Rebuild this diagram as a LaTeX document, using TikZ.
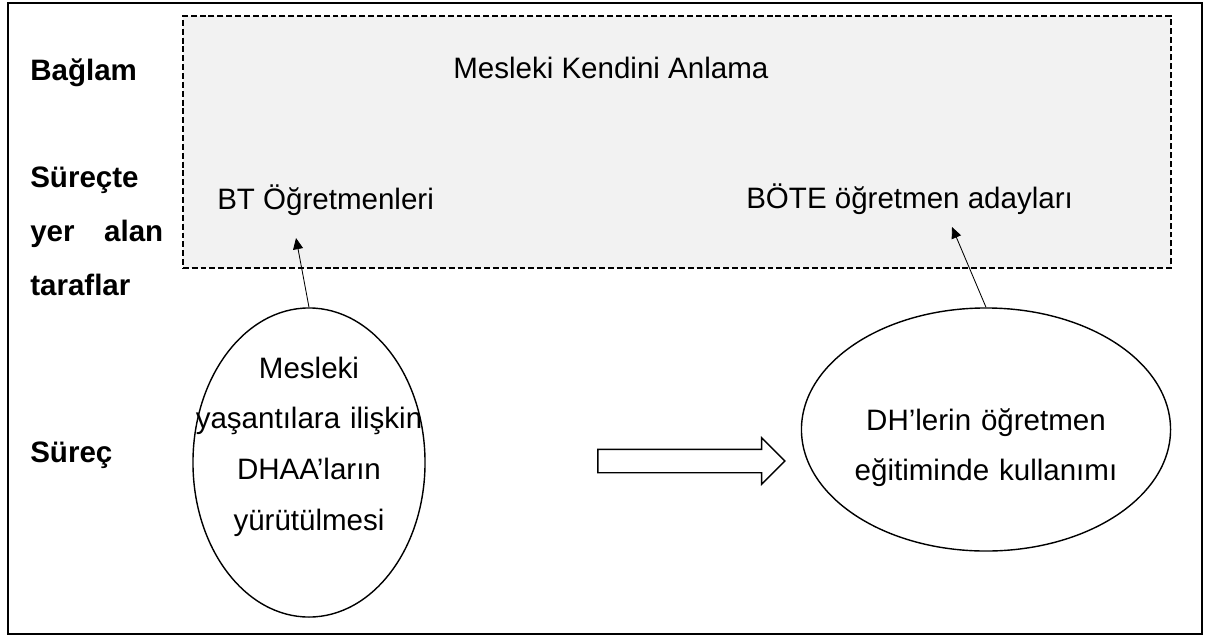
\documentclass[tikz,border=0pt]{standalone}
\usepackage{fontspec}
\setmainfont{Liberation Sans}
\usepackage{xcolor}
\usetikzlibrary{shapes.geometric, shapes.arrows, arrows.meta, positioning}
\definecolor{ctxgray}{HTML}{F2F2F2}
\tikzstyle{sidelabel} = [font=\fontsize{21}{38.4}\selectfont\bfseries, inner sep=0]
\tikzstyle{party} = [font=\fontsize{21}{25}\selectfont, inner sep=0]
\tikzstyle{activity} = [ellipse, draw, line width=1pt, inner sep=0]
\tikzstyle{acttext} = [font=\fontsize{21}{36.1}\selectfont, inner sep=0, text width=7cm, align=center]
\tikzstyle{arrow} = [line width=0.6pt, ->, >={Triangle[length=0.28cm, width=0.25cm]}]

\begin{document}
\begin{tikzpicture}[x=0.025cm, y=-0.025cm]
        \useasboundingbox (0,0) rectangle (1211,639);

        % Frame and context box
        \node (frame) [rectangle, draw, line width=1.4pt, minimum width=29.85cm, minimum height=15.775cm] at (605,318.5) {};
        \node (context) [rectangle, draw, dashed, dash pattern=on 4.2pt off 2.1pt, line width=1pt, fill=ctxgray, minimum width=24.7cm, minimum height=6.3cm] at (677,142) {};

        % Row labels
        \node (baglam) [sidelabel, anchor=base west] at (30,80) {Bağlam};
        \node (taraflar) [sidelabel, anchor=base west, text width=3.325cm, align=left] at (30,187) {Süreçte\\yer\hfill alan\\taraflar};
        \node (surec) [sidelabel, anchor=base west] at (30,462) {Süreç};

        % Context texts
        \node (anlama) [party, anchor=base west] at (453,78) {Mesleki Kendini Anlama};
        \node (bt) [party, anchor=base west] at (217,209) {BT Öğretmenleri};
        \node (bote) [party, anchor=base west] at (746,208) {BÖTE öğretmen adayları};
        \coordinate (bttip) at (296,238);
        \coordinate (botetip) at (952,227);

        % Process
        \node (exp) [activity, minimum width=5.8cm, minimum height=7.725cm] at (309,462.5) {};
        \node (exptext) [acttext, anchor=base] at (309,378) {Mesleki\\yaşantılara ilişkin\\DHAA’ların\\yürütülmesi};
        \node (use) [activity, minimum width=9.225cm, minimum height=6.075cm] at (986,429.5) {};
        \node (usetext) [acttext, anchor=base] at (986,430) {DH’lerin öğretmen\\eğitiminde kullanımı};
        \node (flow) [single arrow, draw, line width=1pt, inner xsep=0, inner ysep=0.275cm, minimum height=4.675cm, minimum width=1.125cm, single arrow head extend=0.2875cm] at (685.5,461) {};

        % Arrows
        \draw [arrow] (exp.north) -- (bttip);
        \draw [arrow] (use.north) -- (botetip);

    \end{tikzpicture}
\end{document}
